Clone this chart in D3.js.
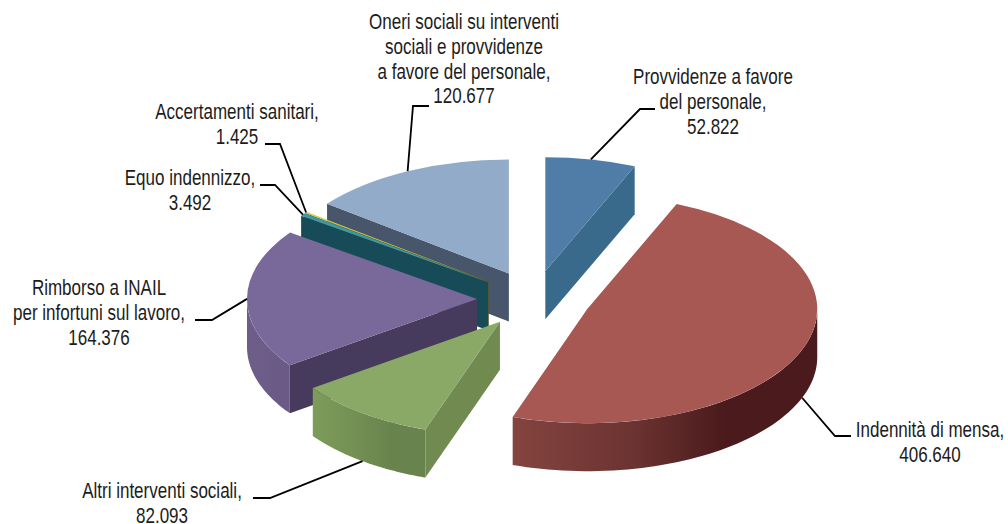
<!DOCTYPE html>
<html>
<head>
<meta charset="utf-8">
<style>
  html, body { margin: 0; padding: 0; background: #fff; }
  svg { display: block; }
  text { font-family: "Liberation Sans", sans-serif; font-size: 22.4px; fill: #1c1c1c; text-anchor: middle; }
</style>
<script src="https://cdnjs.cloudflare.com/ajax/libs/d3/7.8.5/d3.min.js"></script>
</head>
<body>
<div id="chart"></div>
<script>
// values, clockwise from 12 o'clock
const categories = [
  ['Provvidenze a favore', 'del personale,'],
  ['Indennità di mensa,'],
  ['Altri interventi sociali,'],
  ['Rimborso a INAIL', 'per infortuni sul lavoro,'],
  ['Equo indennizzo,'],
  ['Accertamenti sanitari,'],
  ['Oneri sociali su interventi', 'sociali e provvidenze', 'a favore del personale,']
];
const values = [52822, 406640, 82093, 164376, 3492, 1425, 120677];

const topColors = ['#4f7da8', '#a75853', '#8aa866', '#79689a', '#3c99ab', '#d6c83c', '#92abc9'];
const wallColors = ['#396a8b', '#4f1f1f', '#708a50', '#463b5c', '#164b57', '#5c5c1e', '#47566a'];
const rimLeft = ['#3f6f92', '#84443f', '#7d9c5a', '#6d5d88', '#1c5561', '#77701f', '#52637a'];
const rimMid = ['#3a6b8d', '#6b3331', '#738f53', '#6c5c87', '#194f5b', '#69661e', '#4c5c72'];
const rimRight = ['#36668a', '#4a1a1c', '#69834e', '#6a5a85', '#164b57', '#5c5c1e', '#47566a'];

// label placement: text centre, first baseline, then leader elbow and end
const labelX = [713, 930, 162, 99, 190, 237, 464];
const labelY = [84, 437, 498, 295, 185, 119, 29];
const elbows = [[640, 109, 655], [835, 436, 851], [270, 498, 253], [212, 320, 195], [275, 185, 260], [280, 144, 265], [413, 106, 429]];

const width = 1008, height = 524;
const cx = 534, cy = 299, rx = 230, tilt = 0.496, depth = 48, explode = 57;
const lineStep = 24.8, squeeze = 0.76;
const fmt = d3.formatLocale({decimal: ',', thousands: '.', grouping: [3]}).format(',');

const pie = d3.pie().sort(null).startAngle(0).endAngle(2 * Math.PI);
const arcs = pie(values).map(function(d, i) {
  d.i = i;
  d.mid = (d.startAngle + d.endAngle) / 2;
  d.ox = cx + explode * Math.sin(d.mid);
  d.oy = cy - explode * tilt * Math.cos(d.mid);
  return d;
});

function rimPoint(d, a, z) {
  return [d.ox + rx * Math.sin(a), d.oy - rx * tilt * Math.cos(a) + z];
}

const line = d3.line();
const topArc = d3.arc().innerRadius(0).outerRadius(rx);

const svg = d3.select('#chart').append('svg')
  .attr('width', width)
  .attr('height', height)
  .attr('viewBox', '0 0 ' + width + ' ' + height);

const defs = svg.append('defs');
arcs.forEach(function(d) {
  const g = defs.append('linearGradient').attr('id', 'rim' + d.i);
  g.append('stop').attr('offset', '0%').attr('stop-color', rimLeft[d.i]);
  g.append('stop').attr('offset', '40%').attr('stop-color', rimMid[d.i]);
  g.append('stop').attr('offset', '70%').attr('stop-color', rimRight[d.i]);
});

// back to front
const order = arcs.slice().sort(function(a, b) { return d3.descending(Math.cos(a.mid), Math.cos(b.mid)); });

const slices = svg.selectAll('g.slice')
  .data(order)
  .enter().append('g')
  .attr('class', 'slice');

slices.each(function(d) {
  const g = d3.select(this);
  const centre = [d.ox, d.oy], low = [d.ox, d.oy + depth];

  // radial walls that face the viewer
  if (Math.sin(d.startAngle) < -1e-6) {
    g.append('path')
      .attr('fill', wallColors[d.i])
      .attr('d', line([centre, rimPoint(d, d.startAngle, 0), rimPoint(d, d.startAngle, depth), low]) + 'Z');
  }
  if (Math.sin(d.endAngle) > 1e-6) {
    g.append('path')
      .attr('fill', wallColors[d.i])
      .attr('d', line([centre, rimPoint(d, d.endAngle, 0), rimPoint(d, d.endAngle, depth), low]) + 'Z');
  }

  // outer rim, front half of the ellipse only
  const from = Math.max(d.startAngle, Math.PI / 2), to = Math.min(d.endAngle, 3 * Math.PI / 2);
  if (to > from) {
    const steps = d3.range(0, 61).map(function(k) { return from + (to - from) * k / 60; });
    const upper = steps.map(function(a) { return rimPoint(d, a, 0); });
    const lower = steps.slice().reverse().map(function(a) { return rimPoint(d, a, depth); });
    g.append('path')
      .attr('fill', 'url(#rim' + d.i + ')')
      .attr('d', line(upper.concat(lower)) + 'Z');
  }

  g.append('path')
    .attr('fill', topColors[d.i])
    .attr('transform', 'translate(' + d.ox + ',' + d.oy + ') scale(1,' + tilt + ')')
    .attr('d', topArc(d));
});

// leader lines
svg.selectAll('path.leader')
  .data(arcs)
  .enter().append('path')
  .attr('class', 'leader')
  .attr('fill', 'none')
  .attr('stroke', '#000')
  .attr('stroke-width', 1.8)
  .attr('d', function(d) {
    const front = Math.cos(d.mid) < 0 && Math.abs(Math.sin(d.mid)) < 0.98;
    const a = rimPoint(d, d.mid, front ? depth : 0);
    const e = elbows[d.i];
    return line([a, [e[0], e[1]], [e[2], e[1]]]);
  });

// labels, the narrow look comes from squeezing the text horizontally
const labels = svg.selectAll('text')
  .data(arcs)
  .enter().append('text')
  .attr('transform', function(d) { return 'translate(' + labelX[d.i] + ',' + labelY[d.i] + ') scale(' + squeeze + ',1)'; });

labels.selectAll('tspan')
  .data(function(d) {
    return categories[d.i].concat([fmt(d.value)]).map(function(t, k) {
      return {t: t, y: k * lineStep};
    });
  })
  .enter().append('tspan')
  .attr('x', 0)
  .attr('y', function(l) { return l.y; })
  .text(function(l) { return l.t; });
</script>
</body>
</html>
